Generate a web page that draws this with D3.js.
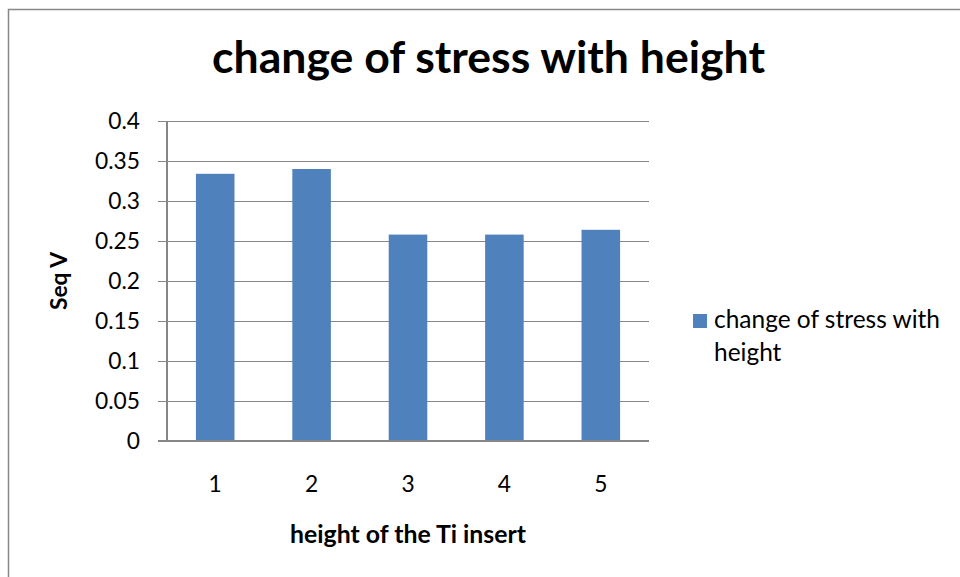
<!DOCTYPE html>
<html>
<head>
<meta charset="utf-8">
<script src="https://cdn.jsdelivr.net/npm/d3@7"></script>
<style>
  html, body { margin: 0; padding: 0; background: #fff; }
  svg { display: block; }
  text { font-family: Lato, "Open Sans", "Liberation Sans", sans-serif; fill: #000; }
</style>
</head>
<body>
<svg id="chart" width="960" height="577"></svg>
<script>
const categories = ["1", "2", "3", "4", "5"];
const values = [0.334, 0.340, 0.258, 0.258, 0.264];
const yTicks = [0, 0.05, 0.1, 0.15, 0.2, 0.25, 0.3, 0.35, 0.4];
const yTickLabels = ["0", "0.05", "0.1", "0.15", "0.2", "0.25", "0.3", "0.35", "0.4"];
const seriesName = "change of stress with height";
const titleText = "change of stress with height";
const xTitle = "height of the Ti insert";
const yTitle = "Seq V";

const svg = d3.select("#chart");
const W = 960, H = 577;
const plot = { left: 167, right: 649, top: 121, bottom: 441 };
const barColor = "#4F81BD";
const gridColor = "#868686";

// fit a text element's font size so its width equals target
function fitWidth(sel, target) {
  sel.style("font-size", "20px");
  const w = sel.node().getComputedTextLength();
  sel.style("font-size", (20 * target / w).toFixed(2) + "px");
  return 20 * target / w;
}

// outer border (chart cropped at right/bottom)
svg.append("rect")
  .attr("x", 8.5).attr("y", 9.5)
  .attr("width", 1200).attr("height", 1200)
  .attr("fill", "#fff")
  .attr("stroke", "#888").attr("stroke-width", 1.5);

const x = d3.scaleBand().domain(categories).range([plot.left, plot.right]).padding(0);
const y = d3.scaleLinear().domain([0, 0.4]).range([plot.bottom, plot.top]);

// gridlines + y ticks
const yAxis = d3.axisLeft(y)
  .tickValues(yTicks)
  .tickSize(-(plot.right - plot.left))
  .tickSizeOuter(0)
  .tickFormat((d, i) => yTickLabels[i]);

const gy = svg.append("g")
  .attr("transform", `translate(${plot.left},0)`)
  .call(yAxis);
gy.select(".domain").remove();
gy.selectAll(".tick line")
  .attr("x1", -9)
  .attr("stroke", gridColor).attr("stroke-width", 1.3)
  .attr("shape-rendering", "crispEdges");
gy.selectAll(".tick text").remove();

// y tick labels
const yLab = svg.append("g").selectAll("text")
  .data(yTicks)
  .join("text")
  .attr("x", 140)
  .attr("y", d => y(d))
  .attr("dy", "0.36em")
  .attr("text-anchor", "end")
  .text((d, i) => yTickLabels[i]);
// fit using "0.25" label width
const refLabel = yLab.filter((d, i) => yTickLabels[i] === "0.25");
const tickFs = fitWidth(refLabel, 45);
yLab.style("font-size", tickFs + "px");

// y axis line
svg.append("line")
  .attr("x1", plot.left).attr("x2", plot.left)
  .attr("y1", y(0.4)).attr("y2", y(0))
  .attr("stroke", gridColor).attr("stroke-width", 1.3)
  .attr("shape-rendering", "crispEdges");

// bars
const bw = x.bandwidth() * 0.4;
svg.append("g").selectAll("rect")
  .data(values)
  .join("rect")
  .attr("x", (d, i) => x(categories[i]) + (x.bandwidth() - bw) / 2)
  .attr("y", d => y(d))
  .attr("width", bw)
  .attr("height", d => y(0) - y(d))
  .attr("fill", barColor);

// x axis baseline
svg.append("line")
  .attr("x1", plot.left - 9).attr("x2", plot.right)
  .attr("y1", y(0)).attr("y2", y(0))
  .attr("stroke", gridColor).attr("stroke-width", 1.3)
  .attr("shape-rendering", "crispEdges");

// x tick labels
svg.append("g").selectAll("text")
  .data(categories)
  .join("text")
  .attr("x", d => x(d) + x.bandwidth() / 2)
  .attr("y", 492)
  .attr("text-anchor", "middle")
  .style("font-size", tickFs + "px")
  .text(d => d);

// title
const t = svg.append("text")
  .attr("x", (212 + 765) / 2).attr("y", 73)
  .attr("text-anchor", "middle")
  .style("font-weight", "bold")
  .text(titleText);
fitWidth(t, 553);

// x axis title
const xt = svg.append("text")
  .attr("x", (plot.left + plot.right) / 2).attr("y", 543)
  .attr("text-anchor", "middle")
  .style("font-weight", "bold")
  .text(xTitle);
fitWidth(xt, 236);

// y axis title
const yt = svg.append("text")
  .attr("transform", "translate(67,281) rotate(-90)")
  .attr("text-anchor", "middle")
  .style("font-weight", "bold")
  .text(yTitle);
fitWidth(yt, 58);

// legend
svg.append("rect")
  .attr("x", 693).attr("y", 314)
  .attr("width", 14).attr("height", 14)
  .attr("fill", barColor);
const words = seriesName.split(" ");
const l1 = svg.append("text").attr("x", 714).attr("y", 328).text(words.slice(0, 4).join(" "));
const legFs = fitWidth(l1, 226);
svg.append("text").attr("x", 714).attr("y", 361)
  .style("font-size", legFs + "px")
  .text(words.slice(4).join(" "));
</script>
</body>
</html>
